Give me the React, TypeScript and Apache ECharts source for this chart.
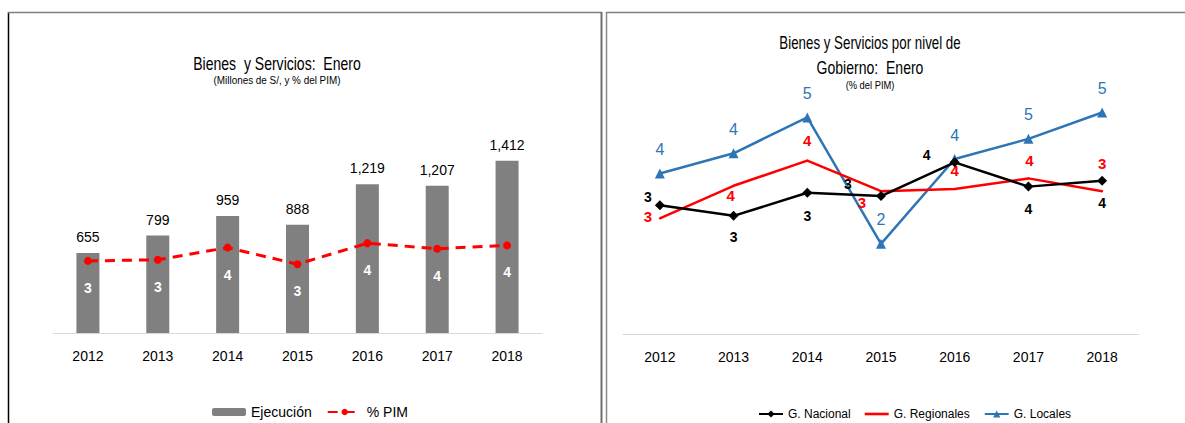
import React, { useEffect, useRef } from "react";
import * as echarts from "echarts";

const years = ["2012", "2013", "2014", "2015", "2016", "2017", "2018"];
const ejecucion = [655, 799, 959, 888, 1219, 1207, 1412];
const pctPim = [3.25, 3.3, 3.85, 3.1, 4.05, 3.8, 3.95];

const gNacional = [3.13, 2.87, 3.43, 3.35, 4.17, 3.58, 3.72];
const gRegionales = [2.81, 3.6, 4.21, 3.47, 3.52, 3.78, 3.47];
const gLocales = [3.9, 4.39, 5.26, 2.19, 4.25, 4.74, 5.38];

// label offsets (layout only)
const nacOffsets = [[-12, -8], [0, 21], [0, 23], [-33, -12], [-28, -7], [0, 22], [0, 22]];
const regOffsets = [[-12, -2], [-3, 10], [0, -20], [-19, 11], [0, -19], [1, -18], [0, -28]];

const FONT = "'Liberation Sans', Arial, sans-serif";

export default function App() {
  const ref = useRef<HTMLDivElement>(null);
  useEffect(() => {
    if (!ref.current) return;
    const chart = echarts.init(ref.current, undefined, { renderer: "svg" });
    const round = (p: any) => String(Math.round(p.value));
    const title = (text: string, x: number, y: number, size: number, sx: number) => ({
      type: "text",
      x,
      y,
      scaleX: sx,
      style: {
        text,
        fill: "#000",
        font: `${size}px ${FONT}`,
        textAlign: "center",
        textVerticalAlign: "middle",
      },
    });
    const option: any = {
      animation: false,
      backgroundColor: "#ffffff",
      textStyle: { fontFamily: FONT },
      grid: [
        { left: 53, width: 489, top: 89, height: 244 },
        { left: 623, width: 516, top: 87, height: 247 },
      ],
      xAxis: [
        {
          type: "category",
          gridIndex: 0,
          data: years,
          axisLine: { lineStyle: { color: "#d9d9d9", width: 1 } },
          axisTick: { show: false },
          axisLabel: { color: "#000", fontSize: 14, margin: 16, fontFamily: FONT },
        },
        {
          type: "category",
          gridIndex: 1,
          data: years,
          axisLine: { lineStyle: { color: "#d9d9d9", width: 1 } },
          axisTick: { show: false },
          axisLabel: { color: "#000", fontSize: 14, margin: 16, fontFamily: FONT },
        },
      ],
      yAxis: [
        { type: "value", gridIndex: 0, min: 0, max: 2000, show: false, splitLine: { show: false } },
        { type: "value", gridIndex: 0, min: 0, max: 11, show: false, splitLine: { show: false } },
        { type: "value", gridIndex: 1, min: 0, max: 6, show: false, splitLine: { show: false } },
      ],
      legend: [
        {
          left: 207,
          top: 400,
          itemWidth: 34,
          itemHeight: 8,
          itemGap: 15,
          textStyle: { color: "#000", fontSize: 14, fontFamily: FONT },
          data: ["Ejecución", "% PIM"],
        },
        {
          left: 753,
          top: 403,
          itemWidth: 24,
          itemHeight: 9,
          itemGap: 14,
          textStyle: { color: "#000", fontSize: 12, fontFamily: FONT },
          data: [
            "G. Nacional",
            { name: "G. Regionales", icon: "path://M0,0 L24,0 L24,2.6 L0,2.6 Z" },
            "G. Locales",
          ],
        },
      ],
      series: [
        {
          name: "Ejecución",
          type: "bar",
          xAxisIndex: 0,
          yAxisIndex: 0,
          data: ejecucion,
          barWidth: 23,
          itemStyle: { color: "#808080" },
          label: {
            show: true,
            position: "top",
            distance: 9,
            color: "#000",
            fontSize: 14,
            fontFamily: FONT,
            formatter: (p: any) => p.value.toLocaleString("en-US"),
          },
        },
        {
          name: "% PIM",
          type: "line",
          xAxisIndex: 0,
          yAxisIndex: 1,
          data: pctPim,
          symbol: "circle",
          symbolSize: 8,
          itemStyle: { color: "#ff0000" },
          lineStyle: { color: "#ff0000", width: 3, type: [10, 7] },
          label: {
            show: true,
            position: "bottom",
            distance: 16,
            color: "#ffffff",
            fontWeight: "bold",
            fontSize: 14,
            fontFamily: FONT,
            formatter: round,
          },
          z: 5,
        },
        {
          name: "G. Nacional",
          type: "line",
          xAxisIndex: 1,
          yAxisIndex: 2,
          data: gNacional.map((v, i) => ({
            value: v,
            label: { offset: nacOffsets[i] },
          })),
          symbol: "diamond",
          symbolSize: 10,
          itemStyle: { color: "#000000" },
          lineStyle: { color: "#000000", width: 2.5 },
          label: {
            show: true,
            position: "inside",
            color: "#000",
            fontWeight: "bold",
            fontSize: 14,
            fontFamily: FONT,
            formatter: round,
          },
          z: 4,
        },
        {
          name: "G. Regionales",
          type: "line",
          xAxisIndex: 1,
          yAxisIndex: 2,
          data: gRegionales.map((v, i) => ({
            value: v,
            label: { offset: regOffsets[i] },
          })),
          symbol: "circle",
          symbolSize: 2,
          itemStyle: { color: "#ff0000" },
          lineStyle: { color: "#ff0000", width: 2.5 },
          label: {
            show: true,
            position: "inside",
            color: "#ff0000",
            fontWeight: "bold",
            fontSize: 15,
            fontFamily: FONT,
            formatter: round,
          },
          z: 3,
        },
        {
          name: "G. Locales",
          type: "line",
          xAxisIndex: 1,
          yAxisIndex: 2,
          data: gLocales,
          symbol: "triangle",
          symbolSize: 10,
          itemStyle: { color: "#2e75b6" },
          lineStyle: { color: "#2e75b6", width: 2.5 },
          label: {
            show: true,
            position: "top",
            distance: 11,
            color: "#2e75b6",
            fontSize: 16,
            fontFamily: FONT,
            formatter: round,
          },
          z: 2,
        },
      ],
      graphic: [
        { type: "line", shape: { x1: 8.5, y1: 12, x2: 8.5, y2: 423 }, style: { stroke: "#000", lineWidth: 1.5 } },
        { type: "line", shape: { x1: 8, y1: 12.5, x2: 602, y2: 12.5 }, style: { stroke: "#7f7f7f", lineWidth: 1.5 } },
        { type: "line", shape: { x1: 601.5, y1: 12, x2: 601.5, y2: 423 }, style: { stroke: "#6f6f6f", lineWidth: 2 } },
        { type: "line", shape: { x1: 606.5, y1: 12, x2: 606.5, y2: 423 }, style: { stroke: "#8a8a8a", lineWidth: 1.5 } },
        { type: "line", shape: { x1: 606, y1: 12.5, x2: 1185, y2: 12.5 }, style: { stroke: "#7f7f7f", lineWidth: 1.5 } },
        title("Bienes  y Servicios:  Enero", 277, 63, 18, 0.78),
        title("(Millones de S/, y % del PIM)", 277, 80, 11, 0.9),
        title("Bienes y Servicios por nivel de", 870, 43, 18, 0.74),
        title("Gobierno:  Enero", 870, 67, 18, 0.78),
        title("(% del PIM)", 870, 85, 11, 0.85),
      ],
    };
    chart.setOption(option);
    return () => chart.dispose();
  }, []);
  return (
    <div
      ref={ref}
      style={{ position: "fixed", left: 0, top: 0, width: 1185, height: 423 }}
    />
  );
}
